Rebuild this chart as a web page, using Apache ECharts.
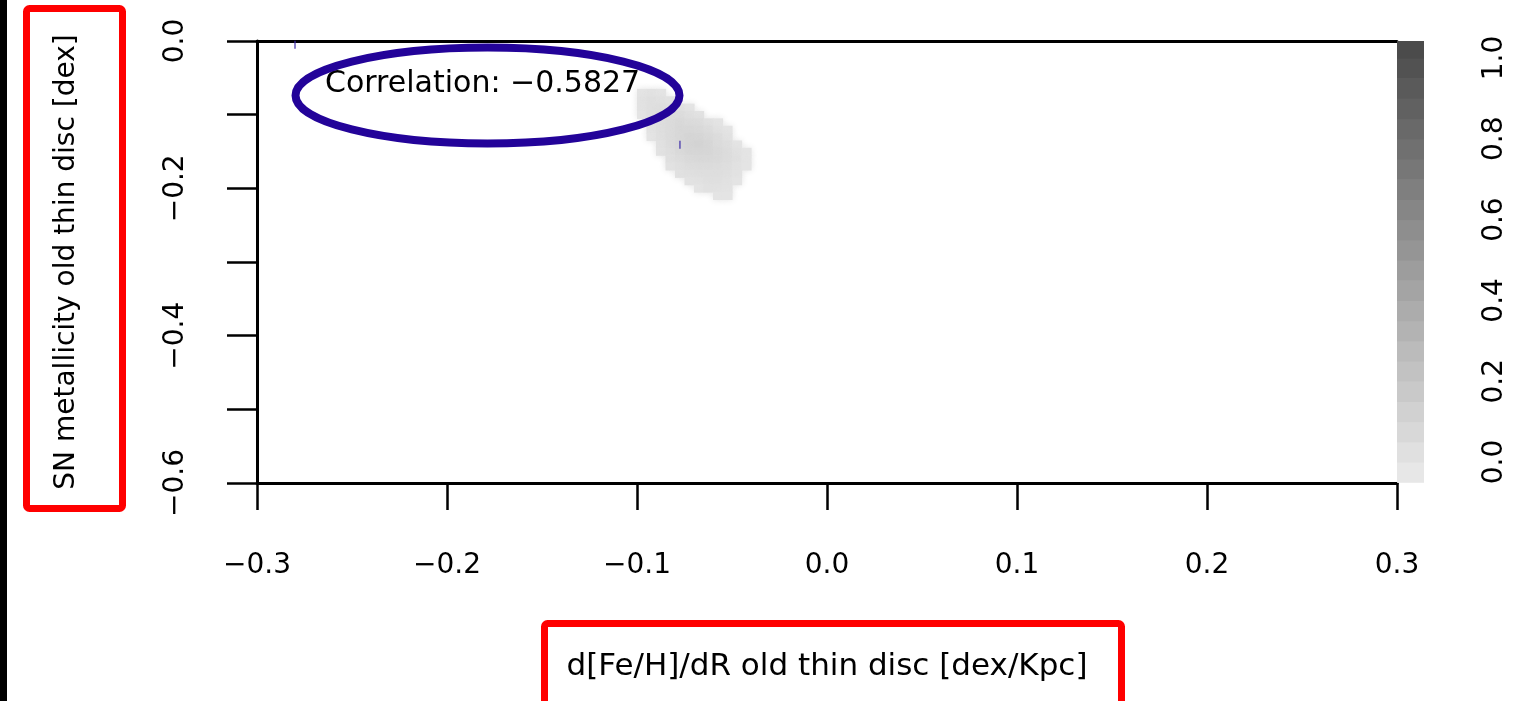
<!DOCTYPE html>
<html>
<head>
<meta charset="utf-8">
<style>
  html, body { margin: 0; padding: 0; background: #fff; }
  #chart { width: 1526px; height: 701px; }
</style>
<script src="https://cdn.jsdelivr.net/npm/echarts@6/dist/echarts.min.js"></script>
</head>
<body>
<div id="chart"></div>
<script>
// ---- data ----
const xTitle = 'd[Fe/H]/dR old thin disc [dex/Kpc]';
const yTitle = 'SN metallicity old thin disc [dex]';
const corrText = 'Correlation: \u22120.5827';
const xTicks = [-0.3, -0.2, -0.1, 0.0, 0.1, 0.2, 0.3];
const colorbarTicks = [0.0, 0.2, 0.4, 0.6, 0.8, 1.0];

// density grid (cell centres)
const cellX = [-0.0975, -0.0925, -0.0875, -0.0825, -0.0775, -0.0725, -0.0675, -0.0625, -0.0575, -0.0525, -0.0475, -0.0425];
const cellY = [-0.07, -0.08, -0.09, -0.10, -0.11, -0.12, -0.13, -0.14, -0.15, -0.16, -0.17, -0.18, -0.19, -0.20, -0.21];
const density = [
  [0.00, 0.01, 0.00, null, null, null, null, null, null, null, null, null],
  [0.01, 0.03, 0.02, 0.01, null, null, null, null, null, null, null, null],
  [0.01, 0.03, 0.04, 0.03, 0.02, 0.00, null, null, null, null, null, null],
  [0.00, 0.03, 0.05, 0.05, 0.05, 0.03, 0.01, null, null, null, null, null],
  [null, 0.02, 0.04, 0.06, 0.07, 0.06, 0.05, 0.02, 0.00, null, null, null],
  [null, 0.01, 0.04, 0.06, 0.08, 0.08, 0.07, 0.05, 0.02, 0.00, null, null],
  [null, 0.00, 0.03, 0.06, 0.08, 0.10, 0.09, 0.07, 0.05, 0.01, null, null],
  [null, null, 0.02, 0.05, 0.08, 0.10, 0.11, 0.09, 0.06, 0.04, 0.00, null],
  [null, null, 0.01, 0.04, 0.07, 0.09, 0.10, 0.09, 0.07, 0.05, 0.02, 0.00],
  [null, null, null, 0.03, 0.05, 0.07, 0.08, 0.08, 0.07, 0.05, 0.03, 0.00],
  [null, null, null, 0.01, 0.03, 0.05, 0.06, 0.06, 0.05, 0.04, 0.02, 0.00],
  [null, null, null, null, 0.02, 0.03, 0.04, 0.04, 0.04, 0.03, 0.01, null],
  [null, null, null, null, null, 0.01, 0.02, 0.03, 0.03, 0.02, 0.00, null],
  [null, null, null, null, null, null, 0.00, 0.02, 0.02, 0.01, null, null],
  [null, null, null, null, null, null, null, null, 0.00, 0.00, null, null]
];
const cellW = 0.005;
const cellH = 0.01;

// colour bar levels (band centres)
const barLevels = [-0.025, 0.025, 0.075, 0.125, 0.175, 0.225, 0.275, 0.325, 0.375, 0.425, 0.475,
                   0.525, 0.575, 0.625, 0.675, 0.725, 0.775, 0.825, 0.875, 0.925, 0.975, 1.025];
const barStep = 0.05;

// small marker ticks
const markerX = [-0.28, -0.0774];
const markerY = [-0.005, -0.141];

// ---- build ----
const densityData = [];
cellY.forEach((y, i) => {
  cellX.forEach((x, j) => {
    const v = density[i][j];
    if (v !== null) densityData.push([x, y, v]);
  });
});
const barData = barLevels.map(v => [0, v, v]);
const markerData = markerX.map((x, i) => [x, markerY[i]]);

const FONT = 'DejaVu Sans';
const minus = s => s.replace('-', '\u2212');

function cellRenderer(w, h, blur) {
  return function (params, api) {
    const x = api.value(0), y = api.value(1);
    const p = api.coord([x - w / 2, y + h / 2]);
    const s = api.size([w, h]);
    const c = api.visual('color');
    const style = { fill: c };
    if (blur) { style.shadowBlur = blur; style.shadowColor = c; }
    return {
      type: 'rect',
      shape: { x: p[0], y: p[1], width: s[0] + 0.6, height: s[1] + 0.6 },
      style: style
    };
  };
}

const chart = echarts.init(document.getElementById('chart'), null, { renderer: 'canvas' });
chart.setOption({
  backgroundColor: '#ffffff',
  animation: false,
  textStyle: { fontFamily: FONT },
  grid: [
    { left: 257, top: 41, width: 1140, height: 442 },
    { left: 1397, top: 41, width: 27, height: 442 }
  ],
  xAxis: [
    {
      type: 'value', gridIndex: 0, min: -0.3, max: 0.3, interval: 0.1,
      axisLine: { show: true, onZero: false, lineStyle: { color: '#000', width: 3 } },
      axisTick: { show: true, length: 27, lineStyle: { color: '#000', width: 2.5 } },
      axisLabel: { margin: 69, fontSize: 28, color: '#000', fontFamily: FONT,
                   formatter: v => minus(v.toFixed(1)) },
      splitLine: { show: false },
      name: xTitle, nameLocation: 'middle', nameGap: 168,
      nameTextStyle: { fontSize: 31, color: '#000', fontFamily: FONT }
    },
    {
      type: 'value', gridIndex: 0, position: 'top', min: -0.3, max: 0.3,
      axisLine: { show: true, onZero: false, lineStyle: { color: '#000', width: 3 } },
      axisTick: { show: false }, axisLabel: { show: false }, splitLine: { show: false }
    },
    {
      type: 'value', gridIndex: 1, min: -0.5, max: 0.5, show: false
    }
  ],
  yAxis: [
    {
      type: 'value', gridIndex: 0, min: -0.6, max: 0, interval: 0.1,
      axisLine: { show: true, onZero: false, lineStyle: { color: '#000', width: 3 } },
      axisTick: { show: true, length: 30, lineStyle: { color: '#000', width: 2.5 } },
      axisLabel: {
        margin: 67, fontSize: 28, color: '#000', rotate: 90, fontFamily: FONT,
        formatter: v => {
          const k = Math.round(v * 10);
          if (k % 2 !== 0) return '';
          return minus((k / 10).toFixed(1));
        }
      },
      splitLine: { show: false },
      name: yTitle, nameLocation: 'middle', nameGap: 176, nameRotate: 90,
      nameTextStyle: { fontSize: 28, color: '#000', fontFamily: FONT }
    },
    {
      type: 'value', gridIndex: 1, position: 'right', min: -0.052, max: 1.042,
      axisLine: { show: false }, axisTick: { show: false }, splitLine: { show: false },
      axisLabel: {
        customValues: colorbarTicks, margin: 57, fontSize: 28, color: '#000', rotate: 90,
        fontFamily: FONT, formatter: v => v.toFixed(1)
      }
    }
  ],
  visualMap: {
    show: false, type: 'continuous', min: -0.05, max: 1.05, dimension: 2,
    seriesIndex: [0, 1],
    inRange: { color: ['#ebebeb', '#474747'] }
  },
  series: [
    {
      type: 'custom', xAxisIndex: 0, yAxisIndex: 0,
      renderItem: cellRenderer(cellW, cellH, 7),
      encode: { x: 0, y: 1 },
      data: densityData, clip: true, silent: true
    },
    {
      type: 'custom', xAxisIndex: 2, yAxisIndex: 1,
      renderItem: cellRenderer(1, barStep, 0),
      encode: { x: 0, y: 1 },
      data: barData, clip: true, silent: true
    },
    {
      type: 'scatter', xAxisIndex: 0, yAxisIndex: 0,
      symbol: 'rect', symbolSize: [1.5, 8],
      itemStyle: { color: '#3b2aa8' },
      data: markerData, silent: true, z: 5
    }
  ],
  graphic: [
    { type: 'rect', shape: { x: 0, y: 0, width: 7, height: 701 }, style: { fill: '#000' }, z: 100 },
    { type: 'text', x: 325, y: 84, style: { text: corrText, font: '30px "DejaVu Sans"', fill: '#000', textVerticalAlign: 'middle' }, z: 90 },
    { type: 'ellipse', shape: { cx: 487.5, cy: 95.5, rx: 192, ry: 48 }, style: { fill: 'none', stroke: '#230399', lineWidth: 8 }, z: 100 },
    { type: 'rect', shape: { x: 26.5, y: 8.5, width: 96, height: 500, r: 3 }, style: { fill: 'none', stroke: '#ff0000', lineWidth: 7 }, z: 100 },
    { type: 'rect', shape: { x: 544.5, y: 623.5, width: 577, height: 100, r: 3 }, style: { fill: 'none', stroke: '#ff0000', lineWidth: 7 }, z: 100 }
  ]
});
</script>
</body>
</html>
